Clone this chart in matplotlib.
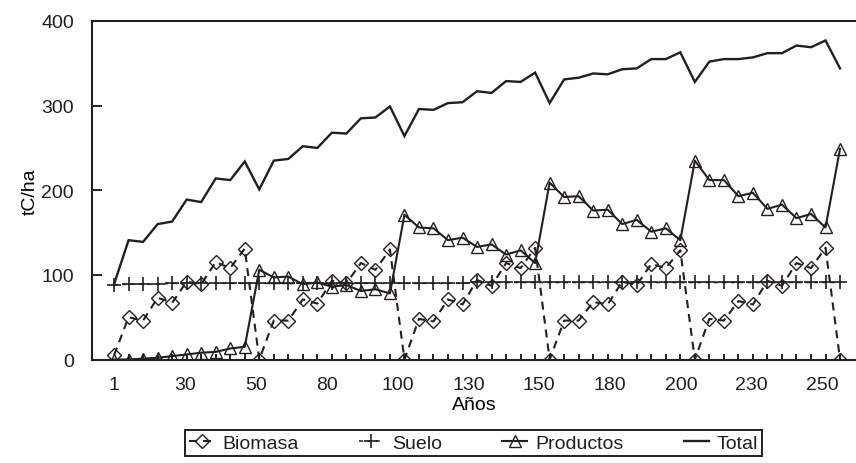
import numpy as np
import matplotlib
matplotlib.use("Agg")
import matplotlib.pyplot as plt

# Carbon stocks (tC/ha) per period
biomasa = [5, 50, 46, 73, 67, 92, 89, 115, 108, 131,
           0, 46, 46, 71, 66, 93, 90, 114, 106, 130,
           0, 48, 45, 71, 65, 94, 87, 114, 108, 132,
           0, 46, 46, 68, 65, 92, 88, 113, 108, 129,
           0, 48, 46, 69, 65, 93, 87, 114, 108, 132,
           0]
suelo = [88, 89, 89, 89, 90, 90, 90, 90, 90, 90,
         90, 90, 90, 90, 90, 90, 90, 90, 90, 90,
         90, 90, 90, 90, 90, 91, 91, 91, 91, 91,
         91, 91, 91, 91, 91, 91, 91, 91, 91, 91,
         91, 91, 91, 91, 91, 91, 91, 91, 91, 91,
         91]
productos = [0, 0, 1, 2, 4, 6, 8, 9, 13, 15,
             106, 97, 98, 89, 91, 86, 88, 81, 83, 78,
             171, 156, 155, 141, 144, 133, 136, 124, 129, 114,
             209, 192, 193, 176, 177, 160, 165, 151, 155, 141,
             235, 212, 212, 193, 197, 178, 183, 167, 172, 156,
             249]
total = [89, 141, 139, 160, 163, 189, 186, 214, 212, 234,
         201, 235, 237, 252, 250, 268, 267, 285, 286, 299,
         264, 296, 295, 303, 304, 317, 315, 329, 328, 339,
         303, 331, 333, 338, 337, 343, 344, 355, 355, 363,
         328, 352, 355, 355, 357, 362, 362, 371, 369, 377,
         344]
year_labels = ["1", "30", "50", "80", "100", "130", "150", "180", "200", "230", "250"]
y_ticks = [0, 100, 200, 300, 400]

INK = "#231f20"
FS = 14
plt.rcParams["font.family"] = ["Liberation Sans", "DejaVu Sans"]
plt.rcParams["font.size"] = FS
plt.rcParams["lines.scale_dashes"] = False
plt.rcParams["text.color"] = INK

W, H = 856, 464
fig = plt.figure(figsize=(W / 100, H / 100), dpi=100)
left, right, top, bottom = 92, 856, 22, 360.5
ax = fig.add_axes([left / W, 1 - bottom / H, (right - left) / W, (bottom - top) / H])

x = np.arange(len(total))

ax.plot(x, total, color=INK, lw=1.7, solid_joinstyle="miter", label="Total", zorder=3)
ax.plot(x, productos, color=INK, lw=1.5, marker="^", ms=9, mfc="none", mec=INK, mew=1.0,
        label="Productos", zorder=4)
ax.plot(x, suelo, color=INK, lw=1.1, dashes=(3.0, 3.0), marker="+", ms=10, mec=INK, mew=1.2,
        label="Suelo", zorder=3)
ax.plot(x, biomasa, color=INK, lw=1.5, dashes=(5.8, 4.3), marker="D", ms=7, mfc="none",
        mec=INK, mew=1.0, label="Biomasa", zorder=5)

ax.set_ylim(0, 400)
ax.set_xlim(-1.52, 51.1)

ax.set_yticks(y_ticks)
ax.set_yticklabels([str(v) for v in y_ticks])
ax.tick_params(axis="y", direction="in", length=7, width=1.4, color=INK, pad=13,
               labelcolor=INK, labelsize=FS)

# category tick marks on every period, year labels evenly spaced along the axis
ax.set_xticks(np.linspace(0, 48.8, len(year_labels)))
ax.set_xticklabels(year_labels)
ax.set_xticks(x, minor=True)
ax.tick_params(axis="x", which="major", length=0, pad=12, labelcolor=INK, labelsize=FS)
ax.tick_params(axis="x", which="minor", direction="in", length=4.5, width=1.4, color=INK)

for side in ("left", "top", "bottom"):
    ax.spines[side].set_linewidth(1.5)
    ax.spines[side].set_color(INK)
ax.spines["right"].set_visible(False)

ax.set_xlabel("Años", fontsize=FS)
ax.xaxis.set_label_coords(0.5, -0.108)
ax.set_ylabel("tC/ha", fontsize=FS)
ax.yaxis.set_label_coords(-0.07, 0.5)

handles, labels = ax.get_legend_handles_labels()
order = ["Biomasa", "Suelo", "Productos", "Total"]
hmap = dict(zip(labels, handles))
leg = fig.legend([hmap[k] for k in order], order, loc="center",
                 bbox_to_anchor=(473.5 / W, 1 - 444 / H), bbox_transform=fig.transFigure,
                 ncol=4, frameon=True, fancybox=False, framealpha=1, edgecolor=INK,
                 handlelength=1.3, handletextpad=0.4, columnspacing=3.1, borderpad=0.2,
                 fontsize=FS, numpoints=1)
leg.get_frame().set_linewidth(1.4)

fig.savefig("out.png", dpi=100)
